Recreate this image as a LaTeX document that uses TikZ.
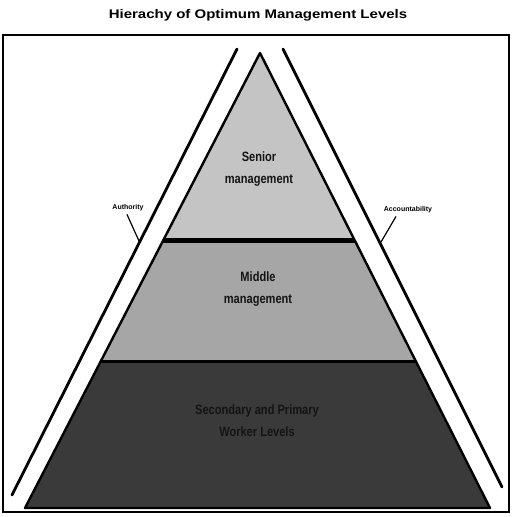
\documentclass[tikz,border=0pt]{standalone}
\usepackage{fontspec}
\setmainfont{Liberation Sans}
\usetikzlibrary{calc}
\definecolor{tierA}{HTML}{C4C4C4}
\definecolor{tierB}{HTML}{A6A6A6}
\definecolor{tierC}{HTML}{3A3A3A}
\definecolor{inkdark}{HTML}{141414}
\newcommand\narrowtxt[1]{\scalebox{0.82}[1]{#1}}
\newcommand\widetxt[1]{\scalebox{1.2}[1]{#1}}
\tikzset{
  tiertext/.style={font=\bfseries\fontsize{13.5}{22}\selectfont, align=center, text=inkdark, inner sep=0pt},
  sidelabel/.style={font=\bfseries\fontsize{7}{8}\selectfont, inner sep=0pt},
  outerline/.style={line width=2.8pt, line cap=round},
  leader/.style={line width=1.2pt},
  divider/.style={line width=#1},
}
\begin{document}
\begin{tikzpicture}[x=1pt,y=-1pt]
\useasboundingbox (0,0) rectangle (513,517);
\fill[white] (0,0) rectangle (513,517);
% title
\node[font=\bfseries\fontsize{12.5}{14}\selectfont] (title) at (258,15) {\widetxt{Hierachy of Optimum Management Levels}};
% frame
\draw[line width=2pt] (3,35) rectangle (509,512);
% pyramid corners
\coordinate (apex) at (260,53);
\coordinate (bl) at (25,508);
\coordinate (br) at (490,508);
\coordinate (l1) at ($(apex)!0.4123!(bl)$);
\coordinate (r1) at ($(apex)!0.4123!(br)$);
\coordinate (l2) at ($(apex)!0.6776!(bl)$);
\coordinate (r2) at ($(apex)!0.6776!(br)$);
% tiers
\fill[tierA] (apex) -- (r1) -- (l1) -- cycle;
\fill[tierB] (l1) -- (r1) -- (r2) -- (l2) -- cycle;
\fill[tierC] (l2) -- (r2) -- (br) -- (bl) -- cycle;
\draw[line width=2.4pt, line join=round] (bl) -- (apex) -- (br) -- cycle;
\draw[divider=5pt] (l1) -- (r1);
\draw[divider=3pt] (l2) -- (r2);
% outer lines
\coordinate (lt) at (237,49);
\coordinate (lb) at (12,495);
\coordinate (rt) at (283,49);
\coordinate (rb) at (502,487);
\draw[outerline] (lt) -- (lb);
\draw[outerline] (rt) -- (rb);
% tier texts
\node[tiertext] (senior) at (259,169) {\narrowtxt{Senior}\\\narrowtxt{management}};
\node[tiertext] (middle) at (258,289) {\narrowtxt{Middle}\\\narrowtxt{management}};
\node[tiertext] (worker) at (257,421) {\narrowtxt{Secondary and Primary}\\\narrowtxt{Worker Levels}};
% side labels
\node[sidelabel] (auth) at (128,208) {Authority};
\node[sidelabel] (acc) at (408,210) {Accountability};
\coordinate (authend) at (139,241);
\coordinate (accend) at (381,242);
\draw[leader] ($(auth.south)+(-1,3)$) -- (authend);
\draw[leader] ($(acc.south)+(-12,3)$) -- (accend);
\end{tikzpicture}
\end{document}
